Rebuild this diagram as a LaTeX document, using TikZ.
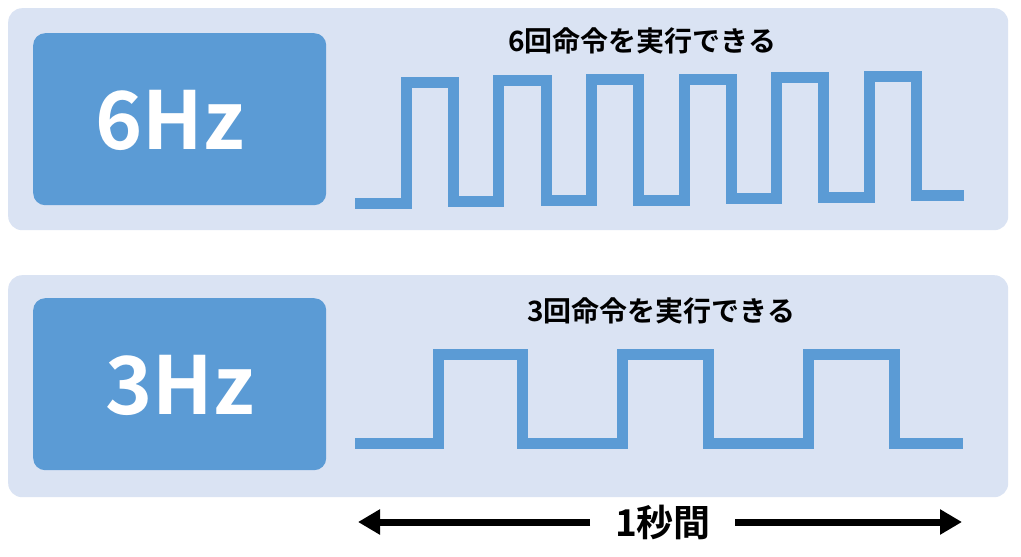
\documentclass[tikz,border=0pt]{standalone}
\usepackage{fontspec}
\newfontfamily\cjk{Noto Sans CJK JP Bold}
\usetikzlibrary{arrows.meta}
\definecolor{panel}{HTML}{DAE3F3}
\definecolor{dark}{HTML}{5B9BD5}
\tikzset{
  panelbox/.style={fill=panel, draw=none, rounded corners=14pt},
  hzbox/.style={fill=dark, draw=none, rounded corners=12pt},
  hz/.style={text=white, font=\cjk\fontsize{80}{80}\selectfont},
  title/.style={font=\cjk\fontsize{28}{28}\selectfont},
  wave/.style={draw=dark, line width=11pt, line join=miter},
  arr/.style={line width=7pt, -{Triangle[length=22pt,width=24pt]}}
}
\begin{document}
\begin{tikzpicture}[x=1pt,y=-1pt]
\useasboundingbox (0,0) rectangle (1021,557);
\fill[white] (0,0) rectangle (1021,557);
\node[panelbox, minimum width=1000pt, minimum height=222pt, anchor=north west] (p1) at (8,8) {};
\node[panelbox, minimum width=1000pt, minimum height=222pt, anchor=north west] (p2) at (8,275) {};
\node[hzbox, minimum width=293pt, minimum height=172pt, anchor=north west] (b1) at (33,33) {};
\node[hzbox, minimum width=293pt, minimum height=172pt, anchor=north west] (b2) at (33,298) {};
\node[hz] (t1) at (170,120) {6Hz};
\node[hz] (t2) at (180,385) {3Hz};
\node[title] (h1) at (642,41) {6回命令を実行できる};
\node[title] (h2) at (661,311) {3回命令を実行できる};
\draw[wave] (355,203) -- (406.5,203) -- (406.5,82.5) -- (453,82.5) -- (453,201) -- (498,201) -- (498,80) -- (546,80) -- (546,200) -- (591,200) -- (591,79.5) -- (638,79.5) -- (638,200) -- (684,200) -- (684,79.5) -- (731,79.5) -- (731,198) -- (776,198) -- (776,77.5) -- (823,77.5) -- (823,197) -- (869,197) -- (869,76.5) -- (916,76.5) -- (916,195) -- (964,195);
\draw[wave] (355,443) -- (438,443) -- (438,354) -- (522,354) -- (522,443) -- (622,443) -- (622,354) -- (708,354) -- (708,443) -- (808,443) -- (808,354) -- (894,354) -- (894,443) -- (963,443);
\node[font=\cjk\fontsize{37}{37}\selectfont] (sec) at (663,522) {1秒間};
\coordinate (la) at (358,522);
\coordinate (ra) at (962,522);
\draw[arr] (590,522) -- (la);
\draw[arr] (735,522) -- (ra);
\end{tikzpicture}
\end{document}
